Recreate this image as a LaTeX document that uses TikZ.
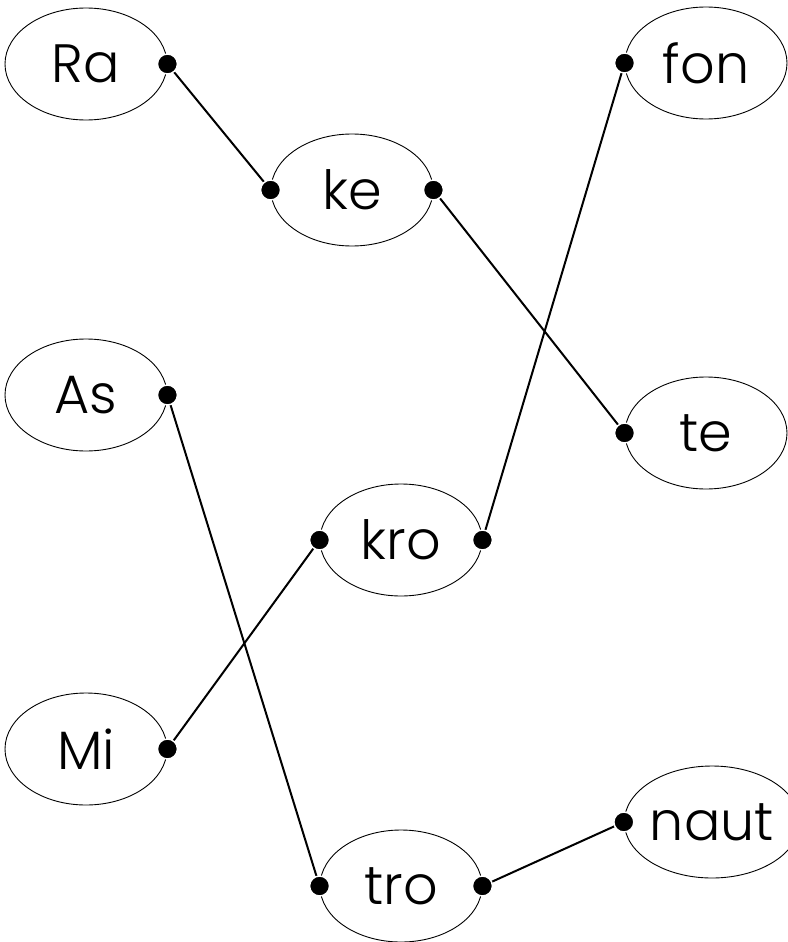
\documentclass[tikz,border=0pt]{standalone}
\usepackage{fontspec}
\setmainfont{Poppins Light}
\usetikzlibrary{shapes.geometric}
\tikzset{
  syl/.style={ellipse, draw=black, line width=0.9pt, minimum width=162pt, minimum height=112pt, inner sep=0pt, font=\fontsize{54pt}{60pt}\selectfont},
  dotn/.style={circle, fill=black, draw=white, line width=1.5pt, inner sep=0pt, minimum size=20pt},
  link/.style={line width=2pt}
}
\begin{document}
\begin{tikzpicture}[x=1pt,y=-1pt]
\useasboundingbox (0,0) rectangle (787,942);
\node[syl] (ra) at (86,64) {Ra};
\node[syl] (ke) at (352,190) {ke};
\node[syl] (fon) at (706,63) {fon};
\node[syl] (as) at (86,395) {As};
\node[syl] (te) at (706,433) {te};
\node[syl] (kro) at (401,540) {kro};
\node[syl] (mi) at (86,749) {Mi};
\node[syl] (tro) at (401,886) {tro};
\node[syl] (naut) at (712,822) {naut};
\coordinate (ra-r) at (ra.east);
\coordinate (ke-l) at (ke.west);
\coordinate (ke-r) at (ke.east);
\coordinate (fon-l) at (fon.west);
\coordinate (as-r) at (as.east);
\coordinate (te-l) at (te.west);
\coordinate (kro-l) at (kro.west);
\coordinate (kro-r) at (kro.east);
\coordinate (mi-r) at (mi.east);
\coordinate (tro-l) at (tro.west);
\coordinate (tro-r) at (tro.east);
\coordinate (naut-l) at (naut.west);
\draw[link] (ra-r) -- (ke-l);
\draw[link] (ke-r) -- (te-l);
\draw[link] (kro-r) -- (fon-l);
\draw[link] (mi-r) -- (kro-l);
\draw[link] (as-r) -- (tro-l);
\draw[link] (tro-r) -- (naut-l);
\foreach \p in {ra-r,ke-l,ke-r,fon-l,as-r,te-l,kro-l,kro-r,mi-r,tro-l,tro-r,naut-l}
  \node[dotn] (d-\p) at (\p) {};
\end{tikzpicture}
\end{document}
